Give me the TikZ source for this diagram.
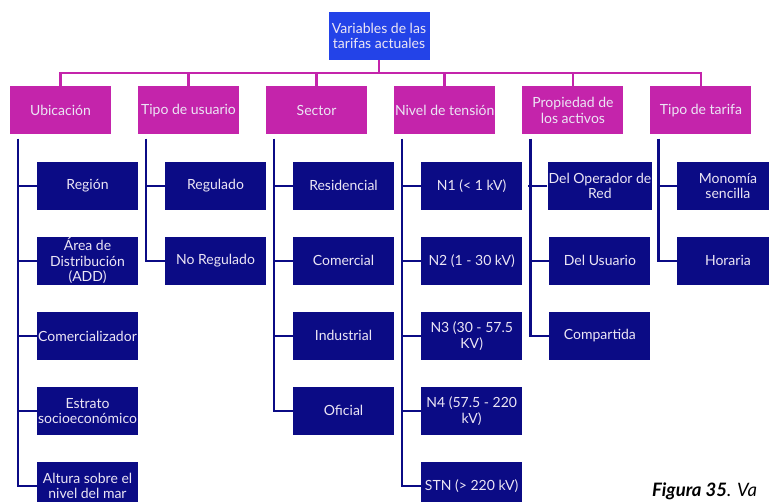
\documentclass[tikz,border=0pt]{standalone}
\usepackage{fontspec}
\usepackage{xcolor}
\usepackage{tikz}
\usetikzlibrary{positioning}
\setmainfont{Lato}
\definecolor{vtblue}{HTML}{2343E8}
\definecolor{vtmagenta}{HTML}{C424AB}
\definecolor{vtnavy}{HTML}{0B0B85}
\definecolor{vttext}{HTML}{ECE6F5}

\begin{document}
\begin{tikzpicture}[
  x=1pt, y=-1pt,
  node distance=26.6pt,
  basebox/.style={
    rectangle, minimum width=101pt, minimum height=48pt, inner sep=1pt,
    text=vttext, align=center,
    font=\fontsize{14}{15.5}\selectfont
  },
  rootbox/.style={basebox, fill=vtblue},
  catbox/.style={basebox, fill=vtmagenta},
  leafbox/.style={basebox, fill=vtnavy},
  busline/.style={vtmagenta, line width=2.6pt},
  childline/.style={vtnavy, line width=2.6pt},
]
\useasboundingbox (0,0) rectangle (769,502);

% Raiz
\node[rootbox] (root) at (379,36) {Variables de las\\tarifas actuales};

% Categorias
\node[catbox] (ubic) at (60.5,110.5) {Ubicaci\'on};
\node[catbox, right=of ubic] (usuario) {Tipo de usuario};
\node[catbox, right=of usuario] (sector) {Sector};
\node[catbox, right=of sector] (tension) {Nivel de tensi\'on};
\node[catbox, right=of tension] (propiedad) {Propiedad de\\los activos};
\node[catbox, right=of propiedad] (tarifa) {Tipo de tarifa};

% Ubicacion
\node[leafbox, below=27pt of ubic, xshift=27pt] (region) {Regi\'on};
\node[leafbox, below=of region] (area) {\'Area de\\Distribuci\'on\\(ADD)};
\node[leafbox, below=of area] (comer) {Comercializador};
\node[leafbox, below=of comer] (estrato) {Estrato\\socioecon\'omico};
\node[leafbox, below=of estrato] (altura) {Altura sobre el\\nivel del mar};

% Tipo de usuario
\node[leafbox, below=27pt of usuario, xshift=27pt] (regulado) {Regulado};
\node[leafbox, below=of regulado] (noregulado) {No Regulado};

% Sector
\node[leafbox, below=27pt of sector, xshift=27pt] (resid) {Residencial};
\node[leafbox, below=of resid] (comerc) {Comercial};
\node[leafbox, below=of comerc] (indus) {Industrial};
\node[leafbox, below=of indus] (oficial) {Oficial};

% Nivel de tension
\node[leafbox, below=27pt of tension, xshift=27pt] (nuno) {N1 (< 1 kV)};
\node[leafbox, below=of nuno] (ndos) {N2 (1 - 30 kV)};
\node[leafbox, below=of ndos] (ntres) {N3 (30 - 57.5\\KV)};
\node[leafbox, below=of ntres] (ncuatro) {N4 (57.5 - 220\\kV)};
\node[leafbox, below=of ncuatro] (stn) {STN (> 220 kV)};

% Propiedad de los activos
\node[leafbox, below=27pt of propiedad, xshift=27pt] (operador) {Del Operador de\\Red};
\node[leafbox, below=of operador] (delusuario) {Del Usuario};
\node[leafbox, below=of delusuario] (compartida) {Compartida};

% Tipo de tarifa
\node[leafbox, below=27pt of tarifa, xshift=27pt] (monomia) {Monom\'ia\\sencilla};
\node[leafbox, below=of monomia] (horaria) {Horaria};

% Barra superior
\coordinate (busy) at (0,73);
\draw[busline] (ubic.north) |- (tarifa.north |- busy) -- (tarifa.north);
\draw[busline] (root.south) -- (root.south |- busy);
\foreach \c in {usuario,sector,tension,propiedad}
  \draw[busline] (\c.north) -- (\c.north |- busy);

% Ramas
\draw[childline] ([xshift=8pt,yshift=-4pt]ubic.south west) |- (altura.west);
\foreach \k in {region,area,comer,estrato}
  \draw[childline] (\k.west) -- ++(-19pt,0);
\draw[childline] ([xshift=8pt,yshift=-4pt]usuario.south west) |- (noregulado.west);
\draw[childline] (regulado.west) -- ++(-19pt,0);
\draw[childline] ([xshift=8pt,yshift=-4pt]sector.south west) |- (oficial.west);
\foreach \k in {resid,comerc,indus}
  \draw[childline] (\k.west) -- ++(-19pt,0);
\draw[childline] ([xshift=8pt,yshift=-4pt]tension.south west) |- (stn.west);
\foreach \k in {nuno,ndos,ntres,ncuatro}
  \draw[childline] (\k.west) -- ++(-19pt,0);
\draw[childline] ([xshift=8pt,yshift=-4pt]propiedad.south west) |- (compartida.west);
\foreach \k in {operador,delusuario}
  \draw[childline] (\k.west) -- ++(-19pt,0);
\draw[childline] ([xshift=8pt,yshift=-4pt]tarifa.south west) |- (horaria.west);
\draw[childline] (monomia.west) -- ++(-19pt,0);

% Pie
\node[anchor=base west, inner sep=0pt, font=\fontsize{18.5}{22}\selectfont\itshape]
  (pie) at (652,497) {\textbf{Figura 35}. Va};
\end{tikzpicture}
\end{document}
